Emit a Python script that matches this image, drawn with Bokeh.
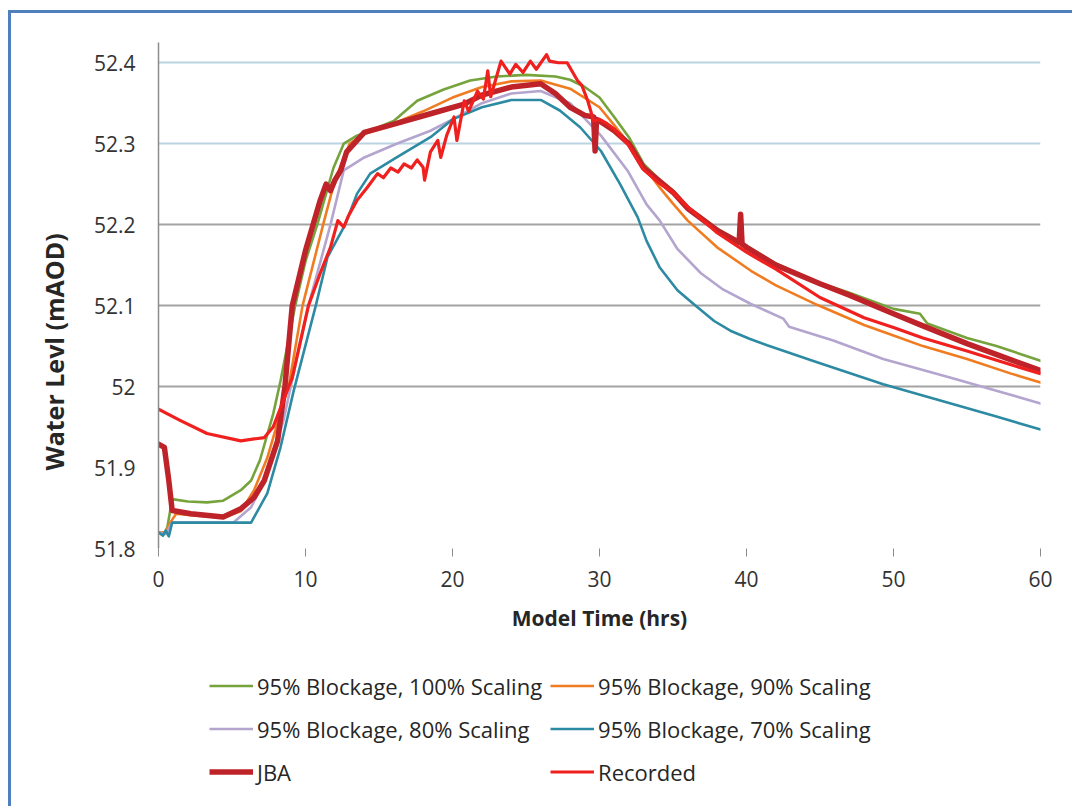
from bokeh.plotting import figure
from bokeh.layouts import column, row
from bokeh.models import (Range1d, FixedTicker, Grid, Legend, LegendItem, Title, Div, Spacer)
from bokeh.embed import file_html
from bokeh.resources import INLINE

# ---------------- data ----------------
t_green = [0, 0.3, 0.6, 0.93, 2.0, 3.3, 4.4, 5.6, 6.3, 6.9, 7.8, 8.3, 9.3, 10.0, 10.8, 11.9, 12.6, 13.5, 14.4, 16.0,
           17.6, 19.4, 21.2, 23.0, 25.0, 27.0, 28.0, 29.0, 30.0, 31.0, 32.0, 33.0, 34.0, 35.0, 36.0, 38.0, 40.0, 42.0,
           45.0, 47.0, 50.0, 51.8, 52.3, 55.0, 57.0, 60.0]
v_green = [51.82, 51.816, 51.826, 51.861, 51.858, 51.857, 51.859, 51.872, 51.884, 51.909, 51.966, 52.007, 52.1, 52.155,
           52.2, 52.27, 52.3, 52.31, 52.316, 52.328, 52.353, 52.367, 52.378, 52.383, 52.385, 52.383, 52.379, 52.37,
           52.357, 52.333, 52.308, 52.275, 52.257, 52.242, 52.222, 52.195, 52.174, 52.152, 52.128, 52.116, 52.096,
           52.09, 52.078, 52.06, 52.05, 52.032]

t_orange = [0, 0.5, 0.8, 1.2, 2.2, 4.4, 5.6, 6.5, 7.4, 8.9, 9.8, 11.2, 12.0, 13.0, 14.0, 16.0, 18.0, 20.0, 22.0, 24.0,
            26.0, 28.0, 30.0, 31.0, 32.0, 33.0, 34.0, 35.0, 36.0, 38.0, 40.3, 42.0, 44.8, 48.0, 50.0, 52.0, 55.0,
            58.0, 60.0]
v_orange = [51.82, 51.82, 51.832, 51.843, 51.841, 51.838, 51.846, 51.872, 51.912, 52.005, 52.1, 52.2, 52.255, 52.3,
            52.312, 52.325, 52.34, 52.357, 52.37, 52.377, 52.378, 52.368, 52.345, 52.323, 52.3, 52.272, 52.248,
            52.226, 52.205, 52.172, 52.143, 52.125, 52.101, 52.076, 52.063, 52.05, 52.034, 52.016, 52.005]

t_purple = [0, 0.5, 0.93, 5.1, 6.3, 7.4, 8.5, 9.0, 10.2, 11.7, 12.6, 14.0, 16.2, 18.5, 20.0, 22.0, 24.0, 26.0, 28.0,
            30.1, 31.9, 33.2, 34.1, 35.3, 36.9, 38.4, 40.3, 42.5, 42.9, 45.9, 49.3, 53.9, 57.0, 60.0]
v_purple = [51.82, 51.818, 51.832, 51.832, 51.851, 51.892, 51.958, 52.0, 52.1, 52.2, 52.267, 52.283, 52.3, 52.316,
            52.33, 52.35, 52.362, 52.365, 52.35, 52.31, 52.267, 52.225, 52.205, 52.17, 52.14, 52.12, 52.102, 52.084,
            52.074, 52.057, 52.034, 52.011, 51.995, 51.979]

t_teal = [0, 0.3, 0.5, 0.7, 0.93, 3.0, 6.3, 7.4, 8.3, 9.2, 10.7, 11.5, 12.7, 13.5, 14.4, 16.2, 18.5, 20.0, 22.0, 24.0,
          26.0, 27.3, 28.7, 30.1, 31.4, 32.6, 33.2, 34.1, 35.3, 36.4, 37.8, 38.9, 40.2, 41.4, 44.8, 49.3, 53.9, 57.0,
          60.0]
v_teal = [51.82, 51.816, 51.822, 51.815, 51.832, 51.832, 51.832, 51.868, 51.925, 51.995, 52.1, 52.16, 52.2, 52.238,
          52.263, 52.283, 52.308, 52.33, 52.345, 52.354, 52.354, 52.341, 52.32, 52.291, 52.25, 52.209, 52.18, 52.147,
          52.119, 52.102, 52.081, 52.069, 52.059, 52.051, 52.03, 52.003, 51.979, 51.963, 51.947]

t_jba = [0, 0.4, 0.7, 0.93, 2.2, 4.4, 5.6, 6.5, 7.2, 8.1, 8.6, 9.1, 10.0, 11.0, 11.4, 11.7, 12.0, 12.4, 12.8, 14.0,
         16.2, 18.5, 20.8, 22.0, 24.0, 26.0, 27.0, 28.0, 29.0, 29.6, 29.7, 29.8, 30.0, 31.0, 32.0, 33.0, 34.0, 35.0,
         36.0, 38.0, 39.5, 39.6, 39.7, 40.0, 42.0, 45.0, 47.0, 50.0, 52.0, 55.0, 58.0, 60.0]
v_jba = [51.929, 51.925, 51.884, 51.847, 51.843, 51.839, 51.849, 51.863, 51.884, 51.933, 52.0, 52.1, 52.168, 52.23,
         52.25, 52.242, 52.255, 52.267, 52.29, 52.314, 52.325, 52.337, 52.349, 52.36, 52.37, 52.374, 52.362, 52.345,
         52.335, 52.333, 52.291, 52.33, 52.328, 52.316, 52.3, 52.27, 52.255, 52.24, 52.22, 52.193, 52.178, 52.213,
         52.176, 52.172, 52.15, 52.127, 52.113, 52.09, 52.075, 52.053, 52.033, 52.02]

t_rec = [0, 1.5, 3.3, 5.6, 7.2, 7.8, 8.5, 9.1, 10.2, 11.0, 11.7, 12.2, 12.6, 12.9, 13.5, 14.2, 14.9, 15.3, 15.8, 16.3,
         16.7, 17.2, 17.6, 18.0, 18.1, 18.5, 19.0, 19.2, 19.6, 20.1, 20.3, 20.8, 21.1, 21.7, 22.1, 22.4, 22.6, 23.3,
         23.9, 24.3, 24.8, 25.3, 25.7, 26.4, 26.6, 27.2, 27.8, 28.5, 28.8, 29.2, 29.6, 30.0, 30.5, 31.0, 32.0, 33.0,
         34.0, 35.0, 36.0, 38.0, 40.0, 42.0, 45.0, 48.0, 50.0, 52.0, 55.0, 58.0, 60.0]
v_rec = [51.972, 51.958, 51.942, 51.933, 51.937, 51.95, 51.983, 52.011, 52.1, 52.14, 52.172, 52.205, 52.197, 52.21,
         52.23, 52.246, 52.263, 52.258, 52.27, 52.265, 52.275, 52.27, 52.28, 52.271, 52.255, 52.29, 52.304, 52.283,
         52.31, 52.333, 52.304, 52.353, 52.34, 52.365, 52.355, 52.39, 52.358, 52.402, 52.386, 52.398, 52.388,
         52.402, 52.392, 52.41, 52.402, 52.4, 52.4, 52.378, 52.372, 52.353, 52.328, 52.33, 52.325, 52.318, 52.298,
         52.268, 52.252, 52.24, 52.222, 52.19, 52.166, 52.145, 52.11, 52.085, 52.073, 52.06, 52.044, 52.027, 52.016]

series_names = ["95% Blockage, 100% Scaling", "95% Blockage, 90% Scaling",
                "95% Blockage, 80% Scaling", "95% Blockage, 70% Scaling", "JBA", "Recorded"]

x_ticks = [0, 10, 20, 30, 40, 50, 60]
y_ticks = [51.8, 51.9, 52.0, 52.1, 52.2, 52.3, 52.4]
y_tick_labels = ["51.8", "51.9", "52", "52.1", "52.2", "52.3", "52.4"]
grid_gray = [52.0, 52.1, 52.2]
grid_blue = [52.3, 52.4]

x_title = "Model Time (hrs)"
y_title = "Water Levl (mAOD)"

# ---------------- styles ----------------
FONT = "Open Sans"
colors = ["#76a33c", "#f07c22", "#b4a5cf", "#2d8aa3", "#be2329", "#f0201f"]
widths = [2.6, 2.6, 2.6, 2.6, 5.5, 3.2]
BORDER = "#4f80bd"

xs = [t_green, t_orange, t_purple, t_teal, t_jba, t_rec]
ys = [v_green, v_orange, v_purple, v_teal, v_jba, v_rec]

# ---------------- main chart ----------------
p = figure(width=1061, height=635, output_backend="svg", toolbar_location=None,
           x_range=Range1d(0, 60), y_range=Range1d(51.8, 52.425),
           min_border_left=147, min_border_right=32, min_border_top=29, min_border_bottom=100,
           background_fill_color="white", border_fill_color="white")
p.outline_line_color = None
p.grid.visible = False

p.xaxis.ticker = FixedTicker(ticks=x_ticks)
p.yaxis.ticker = FixedTicker(ticks=y_ticks)
p.yaxis.major_label_overrides = {v: s for v, s in zip(y_ticks, y_tick_labels)}

for ax in (p.xaxis[0], p.yaxis[0]):
    ax.major_label_text_font = FONT
    ax.major_label_text_font_size = "21px"
    ax.major_label_text_color = "#333333"
    ax.minor_tick_line_color = None

p.xaxis.axis_line_color = None
p.xaxis.major_tick_line_color = "#8c8c8c"
p.xaxis.major_tick_out = 8
p.xaxis.major_tick_in = 0
p.xaxis.major_label_standoff = 14
p.xaxis.axis_label = x_title
p.xaxis.axis_label_text_font = FONT
p.xaxis.axis_label_text_font_style = "bold"
p.xaxis.axis_label_text_font_size = "21px"
p.xaxis.axis_label_text_color = "#262626"
p.xaxis.axis_label_standoff = 14

p.yaxis.axis_line_color = "#8c8c8c"
p.yaxis.axis_line_width = 1.5
p.yaxis.major_tick_line_color = None
p.yaxis.major_tick_out = 0
p.yaxis.major_tick_in = 0
p.yaxis.major_label_standoff = 23

p.add_layout(Title(text=y_title, align="left", offset=78, standoff=40, text_font=FONT, text_font_style="bold",
                   text_font_size="25px", text_color="#262626"), "left")

p.add_layout(Grid(dimension=1, ticker=FixedTicker(ticks=grid_gray), grid_line_color="#a3a3a3", grid_line_width=2))
p.add_layout(Grid(dimension=1, ticker=FixedTicker(ticks=grid_blue), grid_line_color="#bcd4e2", grid_line_width=2))

for x, y, c, w in zip(xs, ys, colors, widths):
    p.line(x, y, line_color=c, line_width=w, line_join="round", line_cap="round")

# ---------------- legend panel (series drawn off-range; only their legend glyphs show) ----------------
pl = figure(width=1061, height=158, output_backend="svg", toolbar_location=None,
            x_range=Range1d(100, 101), y_range=Range1d(100, 101), x_axis_location=None, y_axis_location=None,
            min_border=0, background_fill_color="white", border_fill_color="white")
pl.outline_line_color = None
pl.grid.visible = False
leg_renderers = [pl.line(x, y, line_color=c, line_width=w) for x, y, c, w in zip(xs, ys, colors, widths)]
items = [LegendItem(label=n, renderers=[r]) for n, r in zip(series_names, leg_renderers)]
legend = Legend(items=items, orientation="horizontal", ncols=2, location=(51, 17),
                glyph_width=44, glyph_height=35, label_height=35, label_width=282, spacing=8,
                label_standoff=4, padding=0, margin=0, border_line_color=None, background_fill_alpha=0,
                label_text_font=FONT, label_text_font_size="22px", label_text_color="#262626")
pl.add_layout(legend, "center")

# ---------------- page frame ----------------
top_bar = Div(text="", width=1064, height=3, margin=0, styles={"background-color": BORDER})
left_bar = Div(text="", width=3, height=793, margin=0, styles={"background-color": BORDER})
layout = column(
    Spacer(width=1072, height=10, margin=0),
    row(Spacer(width=8, height=3, margin=0), top_bar, spacing=0),
    row(Spacer(width=8, height=793, margin=0), left_bar, column(p, pl, spacing=0), spacing=0),
    spacing=0,
)

open("out.html", "w").write(file_html(layout, INLINE))
